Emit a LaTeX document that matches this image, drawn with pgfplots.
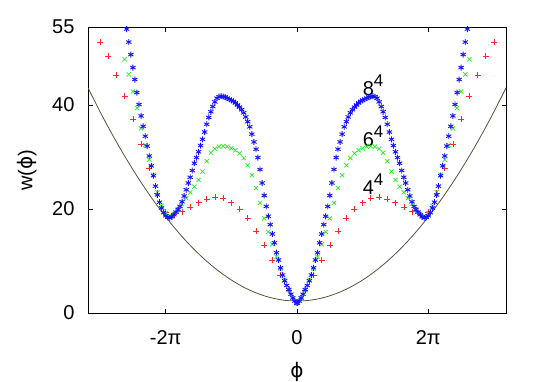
\documentclass[border=0pt]{standalone}
\usepackage{fontspec}
\setmainfont{Liberation Sans}
\newfontfamily\dv{DejaVu Sans}
\usepackage{pgfplots}
\pgfplotsset{compat=1.18}
\usepackage{pgfplotstable}

\definecolor{curvecol}{RGB}{85,85,60}
\definecolor{ptred}{RGB}{255,40,40}
\definecolor{ptgreen}{RGB}{40,235,40}
\definecolor{ptblue}{RGB}{20,20,255}

% right half only; the left half is the mirror image
\pgfplotstableread{
phi w
0.00 2.30
0.50 2.40
1.00 2.71
1.50 3.22
2.00 3.94
2.50 4.86
3.00 5.99
3.50 7.32
4.00 8.86
4.50 10.60
5.00 12.55
5.50 14.70
6.00 17.06
6.50 19.62
7.00 22.39
7.50 25.36
8.00 28.54
8.50 31.92
9.00 35.51
9.50 39.30
10.00 43.30
}\curve

\pgfplotstableread{
phi w
0.00 2.0
0.39 4.4
0.79 7.3
1.18 10.2
1.57 13.1
1.96 15.8
2.36 18.2
2.75 20.0
3.14 21.2
3.53 22.1
3.93 22.3
4.32 21.9
4.71 21.2
5.11 20.3
5.50 19.5
5.89 18.9
6.28 19.4
6.68 23.1
7.07 27.8
7.46 32.5
7.85 37.3
8.25 41.7
8.64 45.7
9.03 49.4
9.42 52.1
}\redpts

\pgfplotstableread{
phi w
0.00 1.9
0.20 2.8
0.39 4.4
0.59 6.4
0.79 8.5
0.98 10.8
1.18 13.2
1.37 15.6
1.57 18.2
1.77 21.2
1.96 24.0
2.16 26.5
2.36 28.4
2.55 29.8
2.75 30.7
2.95 31.3
3.14 31.7
3.34 32.0
3.53 32.1
3.73 32.0
3.93 31.6
4.12 30.8
4.32 29.2
4.52 27.2
4.71 25.6
4.91 24.3
5.11 23.2
5.30 22.1
5.50 21.0
5.69 19.9
5.89 19.1
6.09 18.7
6.28 19.2
6.48 20.6
6.68 23.2
6.87 26.6
7.07 29.5
7.26 32.3
7.46 35.5
7.66 39.4
7.85 42.6
8.05 45.9
8.25 48.8
}\greenpts

\pgfplotstableread{
phi w
0.00 1.9
0.10 2.3
0.20 2.9
0.29 3.6
0.39 4.5
0.49 5.3
0.59 6.2
0.69 7.3
0.79 8.7
0.88 10.2
0.98 11.6
1.08 13.5
1.18 15.2
1.28 17.0
1.37 18.6
1.47 20.5
1.57 22.6
1.67 25.0
1.77 27.6
1.87 29.9
1.96 31.5
2.06 32.9
2.16 34.4
2.26 35.8
2.36 36.8
2.45 37.7
2.55 38.5
2.65 39.1
2.75 39.6
2.85 40.0
2.95 40.4
3.04 40.7
3.14 40.9
3.24 41.1
3.34 41.3
3.44 41.5
3.53 41.6
3.63 41.7
3.73 41.6
3.83 41.3
3.93 40.6
4.03 39.7
4.12 38.7
4.22 37.6
4.32 36.3
4.42 34.8
4.52 33.4
4.61 32.2
4.71 31.0
4.81 29.9
4.91 28.8
5.01 27.4
5.11 26.1
5.20 25.0
5.30 23.7
5.40 22.5
5.50 21.4
5.60 20.5
5.69 19.9
5.79 19.4
5.89 18.9
5.99 18.5
6.09 18.3
6.18 18.4
6.28 18.7
6.38 19.3
6.48 20.2
6.58 21.3
6.68 22.7
6.77 24.4
6.87 26.4
6.97 28.3
7.07 30.2
7.17 32.1
7.26 34.0
7.36 35.9
7.46 37.9
7.56 40.1
7.66 42.4
7.76 44.9
7.85 47.2
7.95 49.7
8.05 52.1
8.15 54.6
}\bluepts

\begin{document}
\begin{tikzpicture}
\begin{axis}[
  scale only axis,
  width=418pt, height=286pt,
  xmin=-10, xmax=10, ymin=0, ymax=55,
  xtick={-6.2832,0,6.2832},
  xticklabels={-2π,0,2π},
  ytick={0,20,40,55},
  xtick pos=both, ytick pos=both,
  xticklabel pos=lower, yticklabel pos=left,
  tick align=inside,
  major tick length=4.5pt,
  tick style={black, line width=0.7pt},
  axis line style={black, line width=0.8pt},
  /pgf/number format/assume math mode=true,
  ticklabel style={font=\fontsize{20}{24}\selectfont},
  xticklabel style={anchor=base, yshift=-31pt},
  yticklabel style={xshift=-10pt},
  xlabel={{\dv ϕ}},
  ylabel={w({\dv ϕ})},
  every axis x label/.style={at={(axis description cs:0.5,-0.206)}, anchor=center,
    font=\fontsize{20}{24}\selectfont},
  every axis y label/.style={at={(axis description cs:-0.146,0.5)}, rotate=90, anchor=center,
    font=\fontsize{20}{24}\selectfont},
  clip=true,
]
\addplot[curvecol, line width=0.8pt, smooth, no marks] table[x=phi, y=w] {\curve};
\addplot[curvecol, line width=0.8pt, smooth, no marks] table[x expr=-\thisrow{phi}, y=w] {\curve};

\addplot[only marks, ptred, mark=+, mark size=3pt, line width=0.6pt] table[x=phi, y=w] {\redpts};
\addplot[only marks, ptred, mark=+, mark size=3pt, line width=0.6pt] table[x expr=-\thisrow{phi}, y=w] {\redpts};

\addplot[only marks, ptgreen, mark=x, mark size=3pt, line width=0.7pt] table[x=phi, y=w] {\greenpts};
\addplot[only marks, ptgreen, mark=x, mark size=3pt, line width=0.7pt] table[x expr=-\thisrow{phi}, y=w] {\greenpts};

\addplot[only marks, ptblue, mark=asterisk, mark size=3pt, line width=0.9pt] table[x=phi, y=w] {\bluepts};
\addplot[only marks, ptblue, mark=asterisk, mark size=3pt, line width=0.9pt] table[x expr=-\thisrow{phi}, y=w] {\bluepts};

\node[anchor=base west, inner sep=0pt, font=\fontsize{20}{24}\selectfont] at (axis cs:3.14,41.9) {8\raisebox{0.45em}{\fontsize{17}{17}\selectfont 4}};
\node[anchor=base west, inner sep=0pt, font=\fontsize{20}{24}\selectfont] at (axis cs:3.14,32.0) {6\raisebox{0.45em}{\fontsize{17}{17}\selectfont 4}};
\node[anchor=base west, inner sep=0pt, font=\fontsize{20}{24}\selectfont] at (axis cs:3.14,22.7) {4\raisebox{0.45em}{\fontsize{17}{17}\selectfont 4}};
\end{axis}
\pgfresetboundingbox
\path[use as bounding box] (-88pt,-69pt) rectangle (457pt,313pt);
\end{tikzpicture}
\end{document}
